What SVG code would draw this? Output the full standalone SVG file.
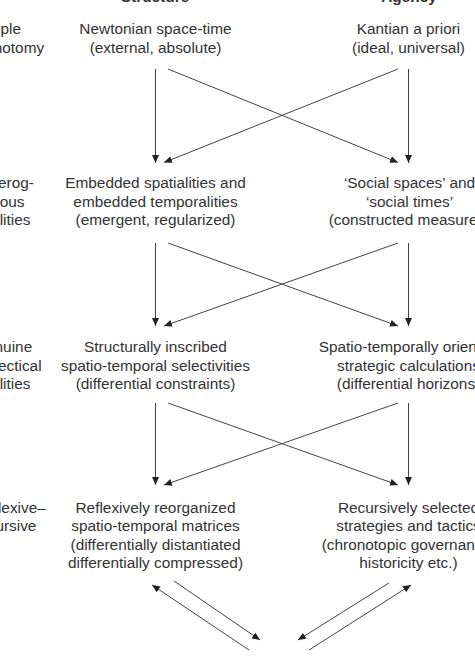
<svg xmlns="http://www.w3.org/2000/svg" width="475" height="657" viewBox="0 0 475 657">
<defs>
<style>
text{font-family:"Liberation Sans",Arial,Helvetica,sans-serif;font-size:15.4px;fill:#333;}
.c{text-anchor:middle;}
.h{font-weight:bold;}
.l{text-anchor:start;}
.cn line{stroke:#444;stroke-width:1;fill:none;marker-end:url(#ah);}
</style>
<marker id="ah" markerUnits="userSpaceOnUse" markerWidth="9" markerHeight="7" refX="8" refY="3.5" orient="auto">
<path d="M0,0 L8,3.5 L0,7 z" fill="#222"/>
</marker>
</defs>
<rect width="475" height="657" fill="#fff"/>

<g id="headers">
<text class="c h" x="155" y="1.5">Structure</text>
<text class="c h" x="409" y="1.5">Agency</text>
</g>

<g id="label-simple">
<text class="l" x="-26" y="34">Simple</text>
<text class="l" x="-26" y="52.5">dichotomy</text>
</g>
<g id="label-heterogeneous">
<text class="l" x="-26" y="188">Heterog-</text>
<text class="l" x="-26" y="206.5">eneous</text>
<text class="l" x="-26" y="225">dualities</text>
</g>
<g id="label-genuine">
<text class="l" x="-26" y="352">Genuine</text>
<text class="l" x="-26" y="370.5">dialectical</text>
<text class="l" x="-26" y="389">dualities</text>
</g>
<g id="label-reflexive">
<text class="l" x="-26" y="512.5">Reflexive–</text>
<text class="l" x="-26" y="531">recursive</text>
</g>

<g id="s1">
<text class="c" x="155.5" y="34">Newtonian space-time</text>
<text class="c" x="155.5" y="52.5">(external, absolute)</text>
</g>
<g id="a1">
<text class="c" x="408.5" y="34">Kantian a priori</text>
<text class="c" x="408.5" y="52.5">(ideal, universal)</text>
</g>
<g id="s2">
<text class="c" x="155.5" y="188">Embedded spatialities and</text>
<text class="c" x="155.5" y="206.5">embedded temporalities</text>
<text class="c" x="155.5" y="225">(emergent, regularized)</text>
</g>
<g id="a2">
<text class="c" x="409.5" y="188">‘Social spaces’ and</text>
<text class="c" x="409.5" y="206.5">‘social times’</text>
<text class="c" x="409.5" y="225">(constructed measures)</text>
</g>
<g id="s3">
<text class="c" x="155.5" y="352">Structurally inscribed</text>
<text class="c" x="155.5" y="370.5">spatio-temporal selectivities</text>
<text class="c" x="155.5" y="389">(differential constraints)</text>
</g>
<g id="a3">
<text class="c" x="408.5" y="352">Spatio-temporally oriented</text>
<text class="c" x="408.5" y="370.5">strategic calculations</text>
<text class="c" x="408.5" y="389">(differential horizons)</text>
</g>
<g id="s4">
<text class="c" x="155.5" y="512.5">Reflexively reorganized</text>
<text class="c" x="155.5" y="531">spatio-temporal matrices</text>
<text class="c" x="155.5" y="549.5">(differentially distantiated</text>
<text class="c" x="155.5" y="568">differentially compressed)</text>
</g>
<g id="a4">
<text class="c" x="408.5" y="512.5">Recursively selected</text>
<text class="c" x="408.5" y="531">strategies and tactics</text>
<text class="c" x="408.5" y="549.5">(chronotopic governance,</text>
<text class="c" x="408.5" y="568">historicity etc.)</text>
</g>

<g id="connectors" class="cn">
<line x1="155.5" y1="69" x2="155.5" y2="163"/>
<line x1="408.5" y1="69" x2="408.5" y2="163"/>
<line x1="168" y1="69" x2="398" y2="162.5"/>
<line x1="398" y1="69" x2="164" y2="162.5"/>

<line x1="155.5" y1="243" x2="155.5" y2="326"/>
<line x1="408.5" y1="243" x2="408.5" y2="326"/>
<line x1="168" y1="243" x2="398" y2="326"/>
<line x1="398" y1="243" x2="164" y2="326"/>

<line x1="155.5" y1="403" x2="155.5" y2="485"/>
<line x1="408.5" y1="403" x2="408.5" y2="485"/>
<line x1="168" y1="403" x2="398" y2="485"/>
<line x1="398" y1="403" x2="164" y2="485"/>

<line x1="174" y1="581" x2="260" y2="640"/>
<line x1="249" y1="650" x2="152" y2="585"/>
<line x1="389" y1="583" x2="298" y2="640"/>
<line x1="309" y1="650" x2="411" y2="585"/>
</g>
</svg>
